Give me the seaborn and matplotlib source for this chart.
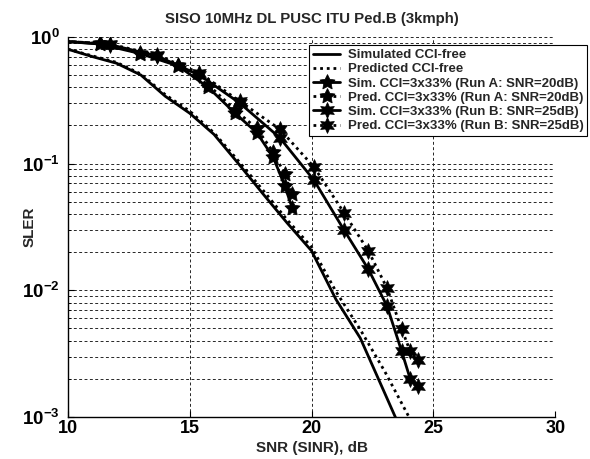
import numpy as np
import matplotlib
matplotlib.use('Agg')
import matplotlib.pyplot as plt
import matplotlib.ticker as mticker
import seaborn as sns

sns.set_style('ticks')
plt.rcParams['font.family'] = ['Liberation Sans', 'DejaVu Sans']
plt.rcParams['font.weight'] = 'bold'
plt.rcParams['mathtext.fontset'] = 'custom'
plt.rcParams['mathtext.rm'] = 'Liberation Sans:bold'
plt.rcParams['mathtext.it'] = 'Liberation Sans:bold'
plt.rcParams['mathtext.bf'] = 'Liberation Sans:bold'
plt.rcParams['mathtext.default'] = 'rm'

# CCI-free curves
snr_free = [10, 11, 12, 13, 14, 15, 16, 17, 18, 19, 20, 21, 22, 23, 24, 25]
sim_free = [0.80, 0.70, 0.62, 0.50, 0.34, 0.25, 0.17, 0.10, 0.058, 0.034,
            0.0205, 0.0085, 0.0042, 0.00155, 0.00057, 0.0002]
pred_free = [0.80, 0.71, 0.63, 0.51, 0.35, 0.26, 0.175, 0.105, 0.062, 0.036,
             0.022, 0.0098, 0.0049, 0.0023, 0.0010, 0.0004]

# Run A: SNR = 20 dB
snr_a = [9.6, 11.3, 12.96, 14.53, 15.76, 16.86, 17.75, 18.43, 18.9, 19.2]
sim_a = [0.93, 0.88, 0.74, 0.59, 0.40, 0.25, 0.176, 0.112, 0.067, 0.045]
pred_a = [0.93, 0.89, 0.75, 0.60, 0.42, 0.265, 0.19, 0.123, 0.083, 0.0575]

# Run B: SNR = 25 dB
snr_b = [9.7, 11.72, 13.64, 15.4, 17.06, 18.7, 20.1, 21.33, 22.33, 23.1,
         23.7, 24.05, 24.35]
sim_b = [0.93, 0.87, 0.71, 0.50, 0.30, 0.16, 0.074, 0.030, 0.0147, 0.0075,
         0.0033, 0.0020, 0.00177]
pred_b = [0.93, 0.88, 0.72, 0.52, 0.31, 0.187, 0.094, 0.041, 0.0205, 0.0104,
          0.00495, 0.0033, 0.0028]

labels = ['Simulated CCI-free', 'Predicted CCI-free',
          'Sim. CCI=3x33% (Run A: SNR=20dB)', 'Pred. CCI=3x33% (Run A: SNR=20dB)',
          'Sim. CCI=3x33% (Run B: SNR=25dB)', 'Pred. CCI=3x33% (Run B: SNR=25dB)']

dotted = (0, (1, 1.4))
pentagram = (5, 1, 0)
hexagram = (6, 1, 0)
series = [
    (snr_free, sim_free, '-', None),
    (snr_free, pred_free, dotted, None),
    (snr_a, sim_a, '-', pentagram),
    (snr_a, pred_a, dotted, pentagram),
    (snr_b, sim_b, '-', hexagram),
    (snr_b, pred_b, dotted, hexagram),
]

fig = plt.figure(figsize=(5.9, 4.59), dpi=100)
ax = fig.add_axes([0.115, 0.0915, 0.826, 0.828])

for label, (x, y, ls, mk) in zip(labels, series):
    kw = dict(marker=mk, markersize=11.5, markerfacecolor='k',
              markeredgecolor='k', markeredgewidth=0.5) if mk else {}
    sns.lineplot(x=x, y=y, ax=ax, color='k', linestyle=ls, linewidth=2,
                 sort=False, estimator=None, label=label, **kw)

ax.set_yscale('log')
ax.set_xlim(10, 30)
ax.set_ylim(1e-3, 1)
ax.set_xticks([10, 15, 20, 25, 30])
ax.yaxis.set_major_locator(mticker.LogLocator(base=10))
ax.yaxis.set_minor_locator(mticker.LogLocator(base=10, subs=np.arange(2, 10)))
ax.yaxis.set_minor_formatter(mticker.NullFormatter())

grid_kw = dict(color='0.15', linestyle=(0, (3, 2.5)), linewidth=0.7)
ax.grid(True, which='major', axis='x', **grid_kw)
ax.grid(True, which='both', axis='y', **grid_kw)
sns.despine(ax=ax)
for sp in ['left', 'bottom']:
    ax.spines[sp].set_color('k')
    ax.spines[sp].set_linewidth(1.0)

ax.tick_params(which='both', direction='in', colors='k', labelsize=13.5)
ax.tick_params(which='major', length=4)
ax.tick_params(which='minor', length=2)
ax.tick_params(axis='x', pad=2.5, labelsize=13)
ax.tick_params(axis='y', pad=6)

ax.set_xlabel('SNR (SINR), dB', fontsize=11, fontweight='bold')
ax.xaxis.set_label_coords(0.5, -0.062)
ax.set_ylabel('SLER', fontsize=11, fontweight='bold')
ax.yaxis.set_label_coords(-0.064, 0.5)
ax.set_title('SISO 10MHz DL PUSC ITU Ped.B (3kmph)', fontsize=10.8,
             fontweight='bold', pad=10)

leg = ax.legend(loc='upper right', bbox_to_anchor=(1.066, 0.979),
                frameon=True, fancybox=False, edgecolor='k', framealpha=1,
                fontsize=9.5, handlelength=2.0, labelspacing=0.15,
                borderpad=0.3, handletextpad=0.6, borderaxespad=0)
leg.get_frame().set_linewidth(0.8)

plt.savefig('out.png', dpi=100)
